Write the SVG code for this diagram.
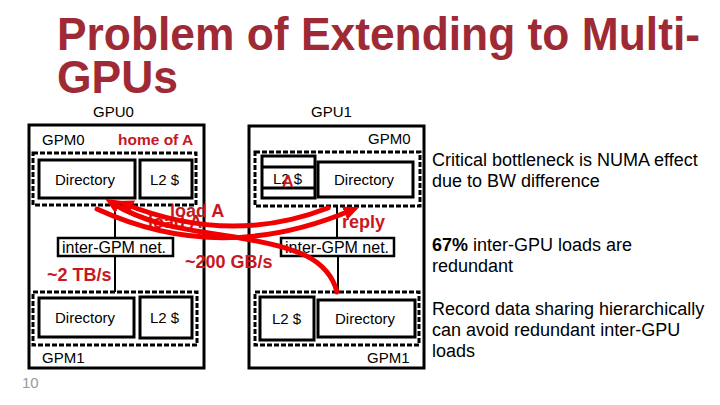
<svg xmlns="http://www.w3.org/2000/svg" width="720" height="405" viewBox="0 0 720 405">
<defs>
<style>
.t{font-family:"Liberation Sans",Arial,sans-serif;fill:#000}
.s15{font-size:15px}
.s16{font-size:16px}
.rt{font-family:"Liberation Sans",Arial,sans-serif;font-size:18px;fill:#000}
.red{font-family:"Liberation Sans",Arial,sans-serif;font-weight:bold;fill:#C8181F}
.box{fill:#fff;stroke:#000;stroke-width:3}
.gpu{fill:#fff;stroke:#000;stroke-width:3}
.dash{fill:none;stroke:#000;stroke-width:3;stroke-dasharray:5 2}
.net{fill:#fff;stroke:#000;stroke-width:2.5}
.wire{stroke:#000;stroke-width:2;fill:none}
.arr{fill:none;stroke:#F00000;stroke-width:5;stroke-linecap:round}
</style>
<marker id="ah" markerUnits="userSpaceOnUse" markerWidth="16" markerHeight="14" refX="8" refY="7" orient="auto">
<path d="M0,0 L16,7 L0,14 z" fill="#F00000"/>
</marker>
</defs>
<rect width="720" height="405" fill="#fff"/>
<g id="title">
<text x="57" y="50" font-family="Liberation Sans,Arial,sans-serif" font-weight="bold" font-size="46" fill="#9E2A35" textLength="643" lengthAdjust="spacingAndGlyphs">Problem of Extending to Multi-</text>
<text x="57" y="93" font-family="Liberation Sans,Arial,sans-serif" font-weight="bold" font-size="46" fill="#9E2A35" textLength="121" lengthAdjust="spacingAndGlyphs">GPUs</text>
</g>
<g id="gpu0">
<text class="t s15" x="93" y="117">GPU0</text>
<rect class="gpu" x="29" y="125" width="175" height="243"/>
</g>
<g id="gpu1">
<text class="t s15" x="311" y="117">GPU1</text>
<rect class="gpu" x="249" y="126" width="175" height="242"/>
</g>
<g id="connectors">
<line class="wire" x1="115" y1="205" x2="115" y2="238"/>
<line class="wire" x1="115" y1="256" x2="115" y2="292"/>
<line class="wire" x1="337" y1="206" x2="337" y2="238"/>
<line class="wire" x1="338" y1="256" x2="338" y2="292"/>
</g>
<g id="gpu0-gpm0">
<text class="t s15" x="42" y="145">GPM0</text>
<text class="red" font-size="15.5" x="118" y="145">home of A</text>
<rect class="dash" x="33" y="153" width="163" height="52"/>
<rect class="box" x="39" y="160" width="96" height="38"/>
<text class="t s15" x="55" y="185">Directory</text>
<rect class="box" x="140" y="160" width="52" height="38"/>
<text class="t s15" x="150" y="185">L2 $</text>
</g>
<g id="gpu0-net">
<rect class="net" x="58" y="238" width="115" height="18"/>
<text class="t s16" x="62" y="253">inter-GPM net.</text>
</g>
<g id="gpu0-gpm1">
<rect class="dash" x="33" y="292" width="164" height="53"/>
<rect class="box" x="39" y="298" width="95" height="39"/>
<text class="t s15" x="55" y="323">Directory</text>
<rect class="box" x="140" y="297" width="52" height="41"/>
<text class="t s15" x="150" y="323">L2 $</text>
<text class="t s15" x="42" y="363">GPM1</text>
</g>
<g id="gpu1-gpm0">
<text class="t s15" x="368" y="144">GPM0</text>
<rect class="dash" x="255" y="152" width="165" height="54"/>
<rect class="box" x="262" y="156" width="53" height="42"/>
<line x1="262" y1="167" x2="315" y2="167" stroke="#000" stroke-width="3"/>
<line x1="262" y1="188" x2="315" y2="188" stroke="#000" stroke-width="3"/>
<text class="t s15" x="273" y="184">L2 $</text>
<text class="red" font-size="16" x="282" y="187">A</text>
<rect class="box" x="318" y="162" width="95" height="35"/>
<text class="t s15" x="334" y="185">Directory</text>
</g>
<g id="gpu1-net">
<rect class="net" x="281" y="238" width="113" height="18"/>
<text class="t s16" x="285" y="253">inter-GPM net.</text>
</g>
<g id="gpu1-gpm1">
<rect class="dash" x="255" y="292" width="164" height="53"/>
<rect class="box" x="260" y="297" width="54" height="43"/>
<text class="t s15" x="272" y="324">L2 $</text>
<rect class="box" x="318" y="300" width="97" height="37"/>
<text class="t s15" x="335" y="324">Directory</text>
<text class="t s15" x="367" y="363">GPM1</text>
</g>
<g id="labels">
<text class="red" font-size="18" x="148" y="228">load A</text>
<text class="red" font-size="18" x="47" y="281">~2 TB/s</text>
<text class="red" font-size="18" x="185" y="268">~200 GB/s</text>
</g>
<g id="arrows">
<path class="arr" d="M328,208 Q230,246 125,204" marker-end="url(#ah)"/>
<path class="arr" d="M97,209 Q220,266 352,210" marker-end="url(#ah)"/>
<path class="arr" d="M337,292 C328,258 295,247 240,238 S150,226 112,203" marker-end="url(#ah)"/>
</g>
<g id="labels-top">
<text class="red" font-size="18" x="170" y="217">load A</text>
<text class="red" font-size="18" x="342" y="228">reply</text>
</g>
<g id="notes">
<text class="rt" x="432" y="166">Critical bottleneck is NUMA effect</text>
<text class="rt" x="432" y="187">due to BW difference</text>
<text class="rt" x="432" y="251"><tspan font-weight="bold">67%</tspan> inter-GPU loads are</text>
<text class="rt" x="432" y="272">redundant</text>
<text class="rt" x="432" y="315">Record data sharing hierarchically</text>
<text class="rt" x="432" y="336">can avoid redundant inter-GPU</text>
<text class="rt" x="432" y="357">loads</text>
</g>
<text x="22" y="388" font-family="Liberation Sans,Arial,sans-serif" font-size="15" fill="#999">10</text>
</svg>
